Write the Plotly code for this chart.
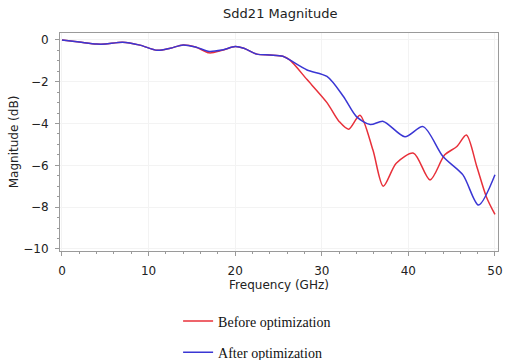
import plotly.graph_objects as go

# Sdd21 magnitude (dB) vs frequency (GHz)
freq_before = [0, 2, 4, 5, 7, 9, 11, 12.5, 14, 15.5, 17, 18.5, 20, 21, 22.5, 24, 25.5, 26.3,
               28.3, 30.6, 32, 33.1, 34.4, 35.9, 37.1, 38.6, 40.6, 42.5, 44.2, 45.6, 46.7,
               47.9, 49, 50]
mag_before = [0, -0.1, -0.2, -0.2, -0.11, -0.25, -0.5, -0.4, -0.24, -0.35, -0.62, -0.5, -0.32,
              -0.4, -0.68, -0.72, -0.78, -0.96,
              -1.9, -3.0, -3.9, -4.27, -3.6, -5.26, -7.0, -5.9, -5.42, -6.7, -5.5, -5.1, -4.55,
              -6.06, -7.5, -8.35]

freq_after = [0, 2, 4, 5, 7, 9, 11, 12.5, 14, 15.5, 17, 18.5, 20, 21, 22.5, 24, 25.5, 26.3,
              28.3, 30.6, 32.5, 34, 35.6, 37.1, 39.6, 41.7, 44, 46.3, 48.1, 50]
mag_after = [0, -0.1, -0.2, -0.2, -0.11, -0.25, -0.5, -0.4, -0.24, -0.35, -0.55, -0.48, -0.32,
             -0.4, -0.68, -0.72, -0.78, -0.96,
             -1.44, -1.75, -2.71, -3.67, -4.05, -3.9, -4.63, -4.15, -5.58, -6.46, -7.9, -6.45]

x_ticks = [0, 10, 20, 30, 40, 50]
y_ticks = [0, -2, -4, -6, -8, -10]

fig = go.Figure()
fig.add_trace(go.Scatter(x=freq_before, y=mag_before, mode="lines", name="Before optimization",
                         line=dict(color="#e8303a", width=1.5, shape="spline", smoothing=0.8),
                         legendgroup="a"))
fig.add_trace(go.Scatter(x=freq_after, y=mag_after, mode="lines", name="After optimization",
                         line=dict(color="#3a36d4", width=1.5, shape="spline", smoothing=0.8),
                         legendgroup="b"))

axis_common = dict(showline=True, linecolor="#9a9a9a", linewidth=1, mirror=True,
                   ticks="outside", ticklen=4, tickcolor="#9a9a9a", automargin=False,
                   showgrid=True, gridcolor="#f3f3f3", zeroline=False,
                   tickfont=dict(family="DejaVu Sans", size=12, color="#222"))

fig.update_layout(
    width=505, height=360,
    margin=dict(l=60, r=7, t=33, b=109, autoexpand=False),
    paper_bgcolor="white", plot_bgcolor="white",
    title=dict(text="Sdd21 Magnitude", x=0.555, xanchor="center", y=0.962, yanchor="middle",
               font=dict(family="DejaVu Sans", size=13, color="#222")),
    xaxis=dict(range=[-0.23, 50.35], tickvals=x_ticks, ticklabelstandoff=5,
               title=dict(text="Frequency (GHz)", standoff=1,
                          font=dict(family="DejaVu Sans", size=12, color="#222")),
               minor=dict(ticks="outside", ticklen=2, dtick=2, tickcolor="#9a9a9a"),
               **axis_common),
    yaxis=dict(range=[-10.1, 0.33], tickvals=y_ticks, ticklabelstandoff=4,
               title=dict(text="Magnitude (dB)", standoff=2,
                          font=dict(family="DejaVu Sans", size=12, color="#222")),
               minor=dict(ticks="outside", ticklen=2, dtick=0.5, tickcolor="#9a9a9a"),
               **axis_common),
    showlegend=True,
    legend=dict(orientation="v", x=0.45, xanchor="center", y=-0.25, yanchor="top",
                font=dict(family="Liberation Serif", size=14, color="#111"),
                tracegroupgap=10, itemwidth=30, bgcolor="rgba(0,0,0,0)"),
)

fig.write_html("out.html")
